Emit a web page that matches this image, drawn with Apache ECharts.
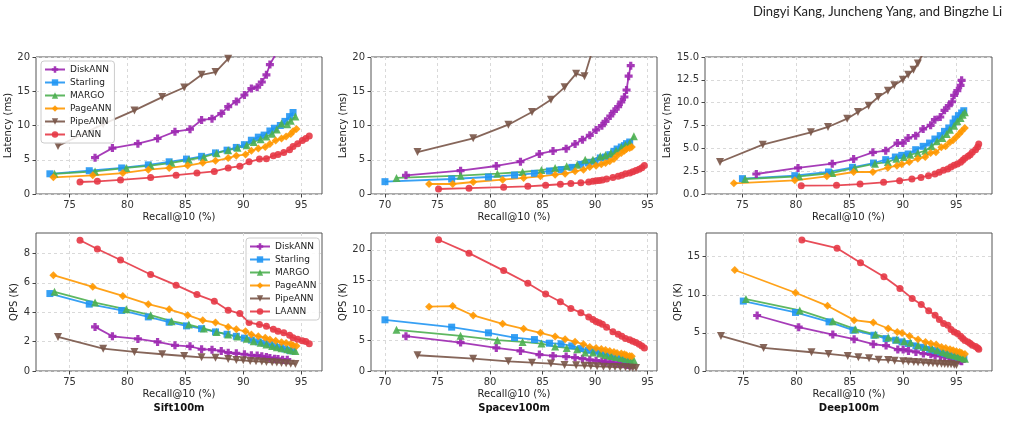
<!DOCTYPE html>
<html>
<head>
<meta charset="utf-8">
<script src="https://cdn.jsdelivr.net/npm/echarts@6/dist/echarts.min.js"></script>
<style>
html, body { margin: 0; padding: 0; background: #fff; }
#chart { width: 1009px; height: 421px; }
</style>
</head>
<body>
<div id="chart"></div>
<script>
// systems, in drawing order
const systems = ['DiskANN', 'Starling', 'MARGO', 'PageANN', 'PipeANN', 'LAANN']
const datasetNames = ['Sift100m', 'Spacev100m', 'Deep100m']

// ---- Sift100m ----
const siftDiskRecall = [77.2, 78.7, 80.9, 82.6, 84.1, 85.4, 86.4, 87.3, 88.1, 88.7, 89.4, 90.1, 90.7, 91.2, 91.6, 92.0, 92.3, 92.7, 93.0, 93.4, 93.8]
const siftDiskLat = [5.3, 6.7, 7.35, 8.1, 9.1, 9.45, 10.8, 11.0, 11.75, 12.75, 13.5, 14.45, 15.4, 15.6, 16.35, 17.4, 18.9, 20.1, 21.5, 23.0, 24.5]
const siftDiskQps = [3.0, 2.36, 2.18, 1.98, 1.75, 1.68, 1.48, 1.45, 1.36, 1.25, 1.2, 1.14, 1.07, 1.05, 1.0, 0.95, 0.89, 0.84, 0.82, 0.77, 0.77]

const siftStarRecall = [73.3, 76.7, 79.5, 81.8, 83.6, 85.1, 86.4, 87.6, 88.6, 89.4, 90.1, 90.7, 91.3, 91.8, 92.3, 92.7, 93.2, 93.6, 94.0, 94.3]
const siftStarLat = [2.95, 3.4, 3.8, 4.25, 4.7, 5.1, 5.5, 6.0, 6.4, 6.8, 7.2, 7.85, 8.3, 8.6, 9.2, 9.6, 10.0, 10.6, 11.3, 11.9]
const siftStarQps = [5.27, 4.55, 4.12, 3.68, 3.32, 3.07, 2.88, 2.66, 2.5, 2.36, 2.24, 2.1, 1.98, 1.89, 1.8, 1.7, 1.61, 1.5, 1.41, 1.36]

const siftMargoRecall = [73.7, 77.2, 79.9, 82.0, 83.8, 85.3, 86.6, 87.7, 88.7, 89.5, 90.3, 90.9, 91.5, 92.0, 92.5, 92.9, 93.3, 93.8, 94.1, 94.5]
const siftMargoLat = [2.95, 3.3, 3.8, 4.15, 4.55, 5.0, 5.4, 5.95, 6.4, 6.75, 7.1, 7.6, 8.0, 8.4, 8.8, 9.4, 10.3, 10.2, 10.7, 11.3]
const siftMargoQps = [5.39, 4.66, 4.2, 3.8, 3.39, 3.16, 2.89, 2.66, 2.48, 2.34, 2.2, 2.02, 1.93, 1.8, 1.7, 1.61, 1.55, 1.48, 1.41, 1.36]

const siftPageRecall = [73.6, 77.0, 79.6, 81.8, 83.6, 85.2, 86.5, 87.6, 88.7, 89.4, 90.2, 90.7, 91.3, 91.9, 92.3, 92.8, 93.3, 93.7, 94.1, 94.3, 94.6]
const siftPageLat = [2.43, 2.72, 3.05, 3.55, 3.8, 4.15, 4.55, 4.85, 5.25, 5.6, 5.75, 6.3, 6.65, 6.85, 7.3, 7.8, 8.1, 8.4, 8.75, 9.15, 9.5]
const siftPageQps = [6.52, 5.73, 5.11, 4.55, 4.2, 3.8, 3.45, 3.3, 3.0, 2.84, 2.7, 2.48, 2.36, 2.27, 2.14, 2.05, 1.95, 1.91, 1.84, 1.75, 1.7]

const siftPipeRecall = [74.0, 77.9, 80.6, 83.0, 84.9, 86.4, 87.6, 88.7, 89.4, 90.0, 90.6, 91.1, 91.6, 92.0, 92.5, 92.9, 93.3, 93.7, 94.1, 94.5]
const siftPipeLat = [7.0, 10.2, 12.2, 14.15, 15.55, 17.4, 17.8, 19.75, 21.3, 21.9, 23.5, 24.2, 25.0, 26.2, 27.1, 28.0, 29.1, 30.8, 32.0, 33.3]
const siftPipeQps = [2.32, 1.52, 1.3, 1.14, 1.02, 0.93, 0.91, 0.82, 0.75, 0.73, 0.68, 0.66, 0.64, 0.61, 0.59, 0.57, 0.55, 0.52, 0.5, 0.48]

const siftLaRecall = [75.9, 77.4, 79.4, 82.0, 84.2, 86.0, 87.5, 88.7, 89.7, 90.5, 91.4, 92.0, 92.6, 93.0, 93.5, 94.0, 94.3, 94.7, 95.1, 95.4, 95.7]
const siftLaLat = [1.75, 1.85, 2.05, 2.4, 2.75, 3.05, 3.3, 3.8, 4.05, 4.7, 5.1, 5.15, 5.6, 5.75, 6.05, 6.45, 6.95, 7.35, 7.8, 8.1, 8.45]
const siftLaQps = [8.9, 8.3, 7.55, 6.57, 5.84, 5.2, 4.75, 4.14, 3.91, 3.3, 3.16, 3.05, 2.84, 2.7, 2.6, 2.43, 2.27, 2.16, 2.05, 2.0, 1.86]

// ---- Spacev100m ----
const spaceDiskRecall = [72.0, 77.2, 80.6, 82.9, 84.7, 86.0, 87.25, 88.1, 88.8, 89.5, 90.1, 90.65, 91.0, 91.45, 91.8, 92.2, 92.5, 92.8, 93.0, 93.2, 93.4]
const spaceDiskLat = [2.72, 3.41, 4.09, 4.72, 5.84, 6.28, 6.62, 7.3, 7.93, 8.56, 9.34, 9.98, 10.61, 11.39, 12.07, 12.75, 13.43, 14.16, 15.18, 17.2, 18.73]
const spaceDiskQps = [5.75, 4.7, 3.81, 3.31, 2.71, 2.49, 2.38, 2.21, 2.04, 1.82, 1.71, 1.6, 1.49, 1.44, 1.33, 1.27, 1.22, 1.16, 1.05, 0.97, 0.9]

const spaceStarRecall = [70.0, 76.35, 79.85, 82.33, 84.23, 85.66, 86.77, 87.79, 88.65, 89.38, 90.0, 90.5, 91.0, 91.4, 91.8, 92.1, 92.5, 92.8, 93.0, 93.3]
const spaceStarLat = [1.8, 2.19, 2.48, 2.77, 3.02, 3.36, 3.55, 3.89, 4.33, 4.53, 4.77, 5.26, 5.4, 5.74, 6.23, 6.57, 6.86, 7.06, 7.35, 7.59]
const spaceStarQps = [8.45, 7.24, 6.3, 5.52, 5.19, 4.59, 4.48, 4.14, 3.7, 3.43, 3.26, 2.98, 2.82, 2.6, 2.38, 2.27, 2.15, 2.04, 1.93, 1.82]

const spaceMargoRecall = [71.1, 77.2, 80.7, 83.1, 84.9, 86.2, 87.3, 88.3, 89.06, 89.8, 90.5, 91.0, 91.5, 92.0, 92.5, 92.9, 93.3, 93.7]
const spaceMargoLat = [2.34, 2.68, 2.97, 3.21, 3.5, 3.8, 4.04, 4.28, 5.01, 5.01, 5.5, 5.69, 5.99, 6.33, 6.81, 7.15, 7.45, 8.42]
const spaceMargoQps = [6.8, 5.8, 5.08, 4.8, 4.53, 4.03, 3.81, 3.59, 3.04, 3.04, 2.87, 2.65, 2.49, 2.32, 2.15, 2.04, 1.93, 1.77]

const spacePageRecall = [74.2, 76.45, 78.4, 81.2, 83.2, 84.8, 86.2, 87.15, 88.1, 88.9, 89.5, 90.1, 90.6, 91.0, 91.4, 91.8, 92.1, 92.5, 92.8, 93.0, 93.3, 93.5]
const spacePageLat = [1.46, 1.46, 1.75, 2.09, 2.34, 2.58, 2.82, 2.97, 3.31, 3.55, 3.94, 4.14, 4.33, 4.53, 4.77, 5.11, 5.6, 5.99, 6.33, 6.57, 6.72, 6.86]
const spacePageQps = [10.61, 10.72, 9.17, 7.79, 6.96, 6.3, 5.69, 5.25, 4.81, 4.42, 3.98, 3.81, 3.65, 3.48, 3.31, 3.15, 2.98, 2.87, 2.76, 2.6, 2.49, 2.43]

const spacePipeRecall = [73.1, 78.4, 81.75, 84.0, 85.8, 87.1, 88.2, 89.0, 89.6, 90.2, 90.8, 91.4, 91.9, 92.4, 92.9, 93.3, 93.6, 93.9]
const spacePipeLat = [6.13, 8.13, 10.12, 11.97, 13.77, 15.57, 17.57, 17.18, 20.2, 20.8, 22.2, 23.5, 24.5, 25.5, 26.5, 29.0, 30.5, 32.0]
const spacePipeQps = [2.6, 2.04, 1.6, 1.38, 1.22, 1.0, 0.94, 0.88, 0.83, 0.77, 0.72, 0.68, 0.65, 0.62, 0.6, 0.55, 0.52, 0.5]

const spaceLaRecall = [75.1, 78.0, 81.3, 83.6, 85.3, 86.7, 87.7, 88.65, 89.4, 89.8, 90.1, 90.4, 90.7, 91.1, 91.7, 92.2, 92.55, 92.9, 93.3, 93.6, 93.9, 94.2, 94.46, 94.7]
const spaceLaLat = [0.73, 0.85, 1.0, 1.12, 1.28, 1.42, 1.55, 1.63, 1.77, 1.86, 1.92, 1.97, 2.05, 2.2, 2.42, 2.6, 2.75, 2.95, 3.08, 3.25, 3.43, 3.63, 3.85, 4.15]
const spaceLaQps = [21.66, 19.45, 16.57, 14.48, 12.71, 11.44, 10.33, 9.61, 8.9, 8.51, 8.18, 7.96, 7.73, 7.24, 6.46, 6.08, 5.75, 5.36, 5.14, 4.92, 4.7, 4.42, 4.14, 3.81]

// ---- Deep100m ----
const deepDiskRecall = [76.3, 80.2, 83.4, 85.4, 87.2, 88.4, 89.5, 90.0, 90.5, 91.2, 91.9, 92.6, 93.0, 93.5, 93.9, 94.3, 94.6, 94.8, 95.1, 95.4, 95.5]
const deepDiskLat = [2.19, 2.85, 3.32, 3.83, 4.56, 4.74, 5.58, 5.58, 6.13, 6.39, 7.12, 7.52, 8.14, 8.43, 9.16, 9.67, 10.1, 10.8, 11.31, 11.9, 12.45]
const deepDiskQps = [7.28, 5.75, 4.78, 4.17, 3.51, 3.33, 2.81, 2.81, 2.63, 2.5, 2.28, 2.19, 2.06, 1.97, 1.84, 1.75, 1.67, 1.54, 1.49, 1.36, 1.27]

const deepStarRecall = [75.0, 79.9, 83.05, 85.3, 87.26, 88.4, 89.3, 89.9, 90.5, 91.2, 91.9, 92.5, 93.0, 93.5, 93.9, 94.3, 94.7, 94.9, 95.2, 95.5, 95.7]
const deepStarLat = [1.68, 2.01, 2.41, 2.92, 3.39, 3.76, 4.05, 4.23, 4.38, 4.85, 5.22, 5.58, 6.02, 6.39, 6.86, 7.23, 7.77, 8.21, 8.58, 8.87, 9.12]
const deepStarQps = [9.17, 7.68, 6.45, 5.35, 4.69, 4.25, 4.04, 3.82, 3.6, 3.29, 3.11, 2.85, 2.68, 2.5, 2.32, 2.15, 2.06, 1.93, 1.84, 1.75, 1.67]

const deepMargoRecall = [75.25, 80.3, 83.4, 85.5, 87.4, 88.6, 89.4, 90.1, 90.7, 91.4, 92.1, 92.7, 93.2, 93.7, 94.1, 94.4, 94.8, 95.1, 95.4, 95.6, 95.8]
const deepMargoLat = [1.64, 1.93, 2.3, 2.85, 3.32, 3.5, 3.87, 4.05, 4.31, 4.49, 4.74, 5.22, 5.77, 6.13, 6.57, 7.04, 7.48, 7.96, 8.32, 8.69, 8.94]
const deepMargoQps = [9.43, 7.94, 6.54, 5.48, 4.78, 4.39, 4.12, 3.9, 3.73, 3.38, 3.16, 2.94, 2.72, 2.5, 2.32, 2.15, 2.06, 1.93, 1.84, 1.71, 1.62]

const deepPageRecall = [74.2, 79.9, 82.9, 85.4, 87.2, 88.6, 89.45, 89.9, 90.6, 91.4, 92.1, 92.6, 93.1, 93.6, 94.0, 94.4, 94.7, 95.0, 95.3, 95.5, 95.8]
const deepPageLat = [1.17, 1.5, 1.93, 2.41, 2.41, 2.88, 3.1, 3.25, 3.5, 3.87, 4.05, 4.49, 4.56, 5.11, 5.22, 5.66, 5.88, 6.24, 6.61, 6.86, 7.23]
const deepPageQps = [13.25, 10.26, 8.55, 6.67, 6.36, 5.57, 5.13, 5.0, 4.6, 4.12, 3.82, 3.6, 3.46, 3.16, 3.03, 2.85, 2.72, 2.59, 2.5, 2.37, 2.24]

const deepPipeRecall = [72.9, 76.9, 81.4, 83.0, 84.8, 85.8, 86.8, 87.7, 88.6, 89.2, 90.0, 90.5, 91.0, 91.4, 91.9, 92.4, 92.8, 93.2, 93.6, 93.9, 94.2, 94.5, 94.8, 95.0]
const deepPipeLat = [3.5, 5.4, 6.75, 7.34, 8.25, 8.98, 9.67, 10.62, 11.31, 11.9, 12.52, 13.07, 13.6, 14.3, 15.4, 16.0, 16.6, 17.2, 17.6, 18.2, 18.9, 19.3, 20.1, 21.0]
const deepPipeQps = [4.6, 3.03, 2.46, 2.24, 1.97, 1.8, 1.67, 1.49, 1.45, 1.36, 1.27, 1.23, 1.18, 1.14, 1.1, 1.05, 1.01, 0.96, 0.96, 0.92, 0.88, 0.88, 0.83, 0.79]

const deepLaRecall = [80.5, 83.8, 86.0, 88.2, 89.7, 90.85, 91.7, 92.4, 93.0, 93.4, 93.8, 94.2, 94.5, 94.8, 95.1, 95.4, 95.6, 95.8, 96.1, 96.3, 96.5, 96.8, 97.0, 97.1]
const deepLaLat = [0.91, 0.95, 1.09, 1.28, 1.46, 1.64, 1.82, 2.01, 2.19, 2.37, 2.59, 2.74, 2.96, 3.14, 3.28, 3.47, 3.69, 3.91, 4.12, 4.31, 4.56, 4.85, 5.15, 5.47]
const deepLaQps = [17.19, 16.1, 14.2, 12.37, 10.83, 9.52, 8.73, 7.89, 7.32, 6.75, 6.23, 6.0, 5.44, 5.13, 4.91, 4.56, 4.25, 3.99, 3.82, 3.6, 3.38, 3.2, 3.03, 2.85]

// tick labels
const recallTicksA = [75, 80, 85, 90, 95]
const recallTicksB = [70, 75, 80, 85, 90, 95]
const latTicks20 = [0, 5, 10, 15, 20]
const latTicks15 = [0, 2.5, 5, 7.5, 10, 12.5, 15]
const qpsTicksSift = [0, 2, 4, 6, 8]
const qpsTicksSpace = [0, 5, 10, 15, 20]
const qpsTicksDeep = [0, 5, 10, 15]

// [recall, latency, qps] per system, per dataset
const data = [
	[
		[siftDiskRecall, siftDiskLat, siftDiskQps],
		[siftStarRecall, siftStarLat, siftStarQps],
		[siftMargoRecall, siftMargoLat, siftMargoQps],
		[siftPageRecall, siftPageLat, siftPageQps],
		[siftPipeRecall, siftPipeLat, siftPipeQps],
		[siftLaRecall, siftLaLat, siftLaQps]
	],
	[
		[spaceDiskRecall, spaceDiskLat, spaceDiskQps],
		[spaceStarRecall, spaceStarLat, spaceStarQps],
		[spaceMargoRecall, spaceMargoLat, spaceMargoQps],
		[spacePageRecall, spacePageLat, spacePageQps],
		[spacePipeRecall, spacePipeLat, spacePipeQps],
		[spaceLaRecall, spaceLaLat, spaceLaQps]
	],
	[
		[deepDiskRecall, deepDiskLat, deepDiskQps],
		[deepStarRecall, deepStarLat, deepStarQps],
		[deepMargoRecall, deepMargoLat, deepMargoQps],
		[deepPageRecall, deepPageLat, deepPageQps],
		[deepPipeRecall, deepPipeLat, deepPipeQps],
		[deepLaRecall, deepLaLat, deepLaQps]
	]
]

const colors = ['#9c27b0', '#2196f3', '#4caf50', '#ff9800', '#795548', '#e63946']
const symbols = [
	'path://M3,0h4v3h3v4h-3v3h-4v-3h-3v-4h3z',
	'rect',
	'triangle',
	'diamond',
	'path://M0,0L10,0L5,10z',
	'circle'
]
const symbolSizes = [8, 7, 8, 8, 8, 7]

const font = 'DejaVu Sans'
const txt = { fontFamily: font, fontSize: 10, color: '#222' }

// plot areas [left, top, width, height]
const grids = [
	[36, 57, 286, 137], [371, 57, 286, 137], [705, 57, 287, 137],
	[36, 233, 286, 138], [371, 233, 286, 138], [706, 233, 286, 138]
]
const xRanges = [[72.1, 96.8], [68.67, 95.9], [71.5, 98.34]]
const xTicks = [recallTicksA, recallTicksB, recallTicksA]
// [max, ticks, name gap]
const yTop = [[20, latTicks20, 19.5], [20, latTicks20, 18.5], [15, latTicks15, 25.5]]
const yBottom = [[9.39, qpsTicksSift, 14], [22.78, qpsTicksSpace, 18.5], [18.1, qpsTicksDeep, 19.5]]

const chart = echarts.init(document.getElementById('chart'))

const xAxis = []
const yAxis = []
for (let i = 0; i < 6; i++) {
	const d = i % 3
	xAxis.push({
		type: 'value',
		gridIndex: i,
		min: xRanges[d][0],
		max: xRanges[d][1],
		name: 'Recall@10 (%)',
		nameLocation: 'middle',
		nameGap: 18,
		nameTextStyle: txt,
		axisLine: { show: false },
		axisTick: { customValues: xTicks[d], length: 3.5, lineStyle: { color: '#444' } },
		axisLabel: { customValues: xTicks[d], margin: 6, ...txt, color: '#333' },
		splitLine: { show: true, lineStyle: { type: [3, 3], color: '#d9d9d9' } }
	})
	const [ymax, ticks, gap] = i < 3 ? yTop[d] : yBottom[d]
	yAxis.push({
		type: 'value',
		gridIndex: i,
		min: 0,
		max: ymax,
		name: i < 3 ? 'Latency (ms)' : 'QPS (K)',
		nameLocation: 'middle',
		nameGap: gap,
		nameTextStyle: txt,
		axisLine: { show: false },
		axisTick: { customValues: ticks, length: 3.5, lineStyle: { color: '#444' } },
		axisLabel: {
			customValues: ticks,
			margin: 6,
			...txt,
			color: '#333',
			formatter: (v) => (i === 2 ? v.toFixed(1) : String(v))
		},
		splitLine: { show: true, lineStyle: { type: [3, 3], color: '#d9d9d9' } }
	})
}

const series = []
data.forEach((ds, d) => {
	ds.forEach(([recall, lat, qps], s) => {
		const base = {
			name: systems[s],
			type: 'line',
			symbol: symbols[s],
			symbolSize: symbolSizes[s],
			color: colors[s],
			lineStyle: { width: 1.8, opacity: 0.9 },
			itemStyle: { opacity: 0.9 },
			animation: false,
			clip: true
		}
		series.push({ ...base, xAxisIndex: d, yAxisIndex: d, data: recall.map((r, k) => [r, lat[k]]) })
		series.push({ ...base, xAxisIndex: d + 3, yAxisIndex: d + 3, data: recall.map((r, k) => [r, qps[k]]) })
	})
})

const legendBase = {
	data: systems,
	orient: 'vertical',
	itemWidth: 20,
	itemHeight: 8,
	itemGap: 4,
	textStyle: { fontFamily: font, fontSize: 9, color: '#222' },
	backgroundColor: 'rgba(255,255,255,0.85)',
	borderColor: '#ccc',
	borderWidth: 1,
	borderRadius: 3,
	padding: [4, 3, 4, 3]
}

const option = {
	backgroundColor: '#fff',
	animation: false,
	grid: grids.map(([left, top, width, height]) => ({
		left, top, width, height,
		show: true,
		borderColor: '#555',
		borderWidth: 1,
		backgroundColor: '#fff'
	})),
	xAxis,
	yAxis,
	legend: [
		{ ...legendBase, left: 41, top: 61 },
		{ ...legendBase, left: 246, top: 238 }
	],
	title: datasetNames.map((n, d) => ({
		text: n,
		left: grids[d + 3][0] + grids[d + 3][2] / 2,
		top: 403,
		textAlign: 'center',
		padding: 0,
		textStyle: { fontFamily: font, fontSize: 10, fontWeight: 'bold', color: '#111' }
	})),
	graphic: [{
		type: 'text',
		right: 7,
		top: 5,
		style: { text: 'Dingyi Kang, Juncheng Yang, and Bingzhe Li', font: '13px Lato', fill: '#222' }
	}],
	series
}

chart.setOption(option)
</script>
</body>
</html>
